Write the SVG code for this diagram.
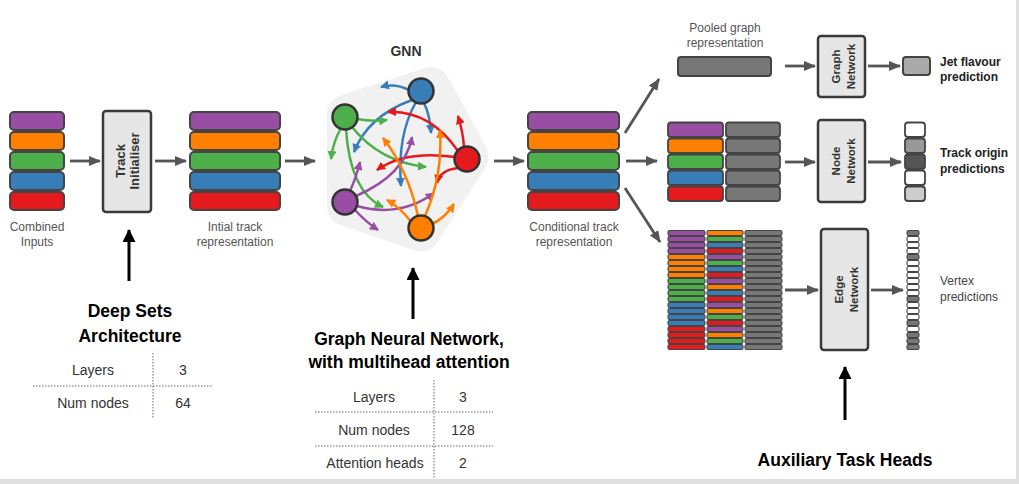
<svg xmlns="http://www.w3.org/2000/svg" width="1019" height="484" viewBox="0 0 1019 484">
<style>
text{font-family:"Liberation Sans",Arial,Helvetica,sans-serif}
.lbl{font-size:12px;fill:#555;text-anchor:middle}
.blbl{font-size:12px;font-weight:bold;fill:#222}
.title{font-size:17.5px;font-weight:bold;fill:#000;text-anchor:middle}
.tbl{font-size:14px;fill:#333;text-anchor:middle}
.btxt{font-weight:bold;fill:#333;text-anchor:middle}
.row{stroke:#444;stroke-width:2}
.srow{stroke:#444;stroke-width:1.8}
.erow{stroke:#444;stroke-width:1.1}
.box{fill:#e6e6e6;stroke:#3a3a3a;stroke-width:2.5}
.pu{fill:#984ea3}.or{fill:#ff7f00}.gr{fill:#4daf4a}.bl{fill:#377eb8}.re{fill:#e41a1c}.gy{fill:#777}
.conn{stroke:#555;stroke-width:2.8;fill:none;marker-end:url(#ah)}
.big{stroke:#000;stroke-width:3;fill:none;marker-end:url(#bh)}
.dot{stroke:#666;stroke-width:1;stroke-dasharray:1.5 1.5;fill:none}
.node{stroke:#333;stroke-width:2.5}
.e{fill:none;stroke-width:2.5}
</style>
<defs>
<marker id="ah" markerUnits="userSpaceOnUse" viewBox="0 0 12 10" refX="11" refY="5" markerWidth="12" markerHeight="10" orient="auto"><path d="M0,0 L12,5 L0,10 z" fill="#555"/></marker>
<marker id="bh" markerUnits="userSpaceOnUse" viewBox="0 0 13 13" refX="12" refY="6.5" markerWidth="13" markerHeight="13" orient="auto"><path d="M0,0 L13,6.5 L0,13 z" fill="#000"/></marker>
<marker id="mb" markerUnits="userSpaceOnUse" viewBox="0 0 9 9" refX="8" refY="4.5" markerWidth="9" markerHeight="9" orient="auto"><path d="M0,0 L9,4.5 L0,9 z" fill="#377eb8"/></marker>
<marker id="mg" markerUnits="userSpaceOnUse" viewBox="0 0 9 9" refX="8" refY="4.5" markerWidth="9" markerHeight="9" orient="auto"><path d="M0,0 L9,4.5 L0,9 z" fill="#4daf4a"/></marker>
<marker id="mr" markerUnits="userSpaceOnUse" viewBox="0 0 9 9" refX="8" refY="4.5" markerWidth="9" markerHeight="9" orient="auto"><path d="M0,0 L9,4.5 L0,9 z" fill="#e41a1c"/></marker>
<marker id="mp" markerUnits="userSpaceOnUse" viewBox="0 0 9 9" refX="8" refY="4.5" markerWidth="9" markerHeight="9" orient="auto"><path d="M0,0 L9,4.5 L0,9 z" fill="#984ea3"/></marker>
<marker id="mo" markerUnits="userSpaceOnUse" viewBox="0 0 9 9" refX="8" refY="4.5" markerWidth="9" markerHeight="9" orient="auto"><path d="M0,0 L9,4.5 L0,9 z" fill="#ff7f00"/></marker>
</defs>
<rect width="1019" height="484" fill="#fff"/>
<rect x="1016" y="0" width="3" height="484" fill="#e0e0e0"/>
<rect x="0" y="479" width="1019" height="5" fill="#e0e0e0"/>

<g id="combined-inputs">
<rect class="row pu" x="10" y="112" width="54" height="18" rx="4"/>
<rect class="row or" x="10" y="132" width="54" height="18" rx="4"/>
<rect class="row gr" x="10" y="152" width="54" height="18" rx="4"/>
<rect class="row bl" x="10" y="172" width="54" height="18" rx="4"/>
<rect class="row re" x="10" y="192" width="54" height="18" rx="4"/>
<text class="lbl" x="37" y="231">Combined</text>
<text class="lbl" x="37" y="246">Inputs</text>
</g>

<g id="track-initialiser">
<rect class="box" x="103" y="111" width="48" height="101" rx="3"/>
<g transform="translate(127,161) rotate(-90)">
<text class="btxt" style="font-size:13px" x="0" y="-2">Track</text>
<text class="btxt" style="font-size:13px" x="0" y="11.5">Initialiser</text>
</g>
</g>

<g id="initial-track-rep">
<rect class="row pu" x="190" y="112" width="90" height="18" rx="4"/>
<rect class="row or" x="190" y="132" width="90" height="18" rx="4"/>
<rect class="row gr" x="190" y="152" width="90" height="18" rx="4"/>
<rect class="row bl" x="190" y="172" width="90" height="18" rx="4"/>
<rect class="row re" x="190" y="192" width="90" height="18" rx="4"/>
<text class="lbl" x="235" y="231">Intial track</text>
<text class="lbl" x="235" y="246">representation</text>
</g>

<g id="gnn">
<text class="btxt" style="font-size:14px" x="406" y="56">GNN</text>
<path d="M327,115 Q327,100 342,95 L425,68 Q440,64 448,77 L485,145 Q492,158 484,170 L437,243 Q428,255 413,250 L338,224 Q327,219 327,205 Z" fill="#f1f1f1"/>
<g stroke="#377eb8" class="e">
<path d="M409,90 Q395,83 381,87" marker-end="url(#mb)"/>
<path d="M412,100 Q368,116 354,152" marker-end="url(#mb)"/>
<path d="M416,102 Q397,135 401,186" marker-end="url(#mb)"/>
<path d="M424,103 Q430,115 431,133" marker-end="url(#mb)"/>
</g>
<g stroke="#4daf4a" class="e">
<path d="M357,119 Q372,122 387,120" marker-end="url(#mg)"/>
<path d="M341,128 Q333,142 331,159" marker-end="url(#mg)"/>
<path d="M352,127 Q380,162 426,167" marker-end="url(#mg)"/>
<path d="M346,129 Q350,192 383,207" marker-end="url(#mg)"/>
</g>
<g stroke="#e41a1c" class="e">
<path d="M458,151 Q430,110 388,112" marker-end="url(#mr)"/>
<path d="M464,147 Q463,132 458,116" marker-end="url(#mr)"/>
<path d="M455,157 Q405,150 377,170" marker-end="url(#mr)"/>
<path d="M458,168 Q440,170 437,183" marker-end="url(#mr)"/>
</g>
<g stroke="#984ea3" class="e">
<path d="M350,191 Q356,178 360,162" marker-end="url(#mp)"/>
<path d="M356,196 Q405,175 412,137" marker-end="url(#mp)"/>
<path d="M357,206 Q400,218 434,193" marker-end="url(#mp)"/>
<path d="M355,210 Q366,222 378,230" marker-end="url(#mp)"/>
</g>
<g stroke="#ff7f00" class="e">
<path d="M418,216 Q408,170 383,138" marker-end="url(#mo)"/>
<path d="M425,216 Q443,175 440,130" marker-end="url(#mo)"/>
<path d="M411,222 Q400,207 387,200" marker-end="url(#mo)"/>
<path d="M432,224 Q445,218 454,204" marker-end="url(#mo)"/>
</g>
<circle class="node bl" cx="421" cy="91" r="12.5"/>
<circle class="node gr" cx="345" cy="117" r="12.5"/>
<circle class="node re" cx="467" cy="159" r="12.5"/>
<circle class="node pu" cx="345" cy="202" r="12.5"/>
<circle class="node or" cx="421" cy="228" r="12.5"/>
</g>

<g id="conditional-track-rep">
<rect class="row pu" x="528" y="112" width="91" height="18" rx="4"/>
<rect class="row or" x="528" y="132" width="91" height="18" rx="4"/>
<rect class="row gr" x="528" y="152" width="91" height="18" rx="4"/>
<rect class="row bl" x="528" y="172" width="91" height="18" rx="4"/>
<rect class="row re" x="528" y="192" width="91" height="18" rx="4"/>
<text class="lbl" x="574" y="231">Conditional track</text>
<text class="lbl" x="574" y="246">representation</text>
</g>

<g id="pooled-graph">
<text class="lbl" x="725" y="32">Pooled graph</text>
<text class="lbl" x="725" y="47">representation</text>
<rect class="row gy" x="678" y="57" width="93" height="19" rx="3"/>
</g>

<g id="graph-network">
<rect class="box" x="818" y="36" width="47" height="61" rx="3"/>
<g transform="translate(841.5,66.5) rotate(-90)">
<text class="btxt" style="font-size:11.5px" x="0" y="-1.5">Graph</text>
<text class="btxt" style="font-size:11.5px" x="0" y="13">Network</text>
</g>
</g>

<g id="jet-flavour">
<rect class="row" fill="#aaa" x="903" y="57" width="27" height="18" rx="3"/>
<text class="blbl" x="940" y="66">Jet flavour</text>
<text class="blbl" x="940" y="81">prediction</text>
</g>

<g id="node-stack">
<rect class="srow pu" x="668" y="122.5" width="55" height="14.5" rx="3"/>
<rect class="srow or" x="668" y="138.5" width="55" height="14.5" rx="3"/>
<rect class="srow gr" x="668" y="154.5" width="55" height="14.5" rx="3"/>
<rect class="srow bl" x="668" y="170.5" width="55" height="14.5" rx="3"/>
<rect class="srow re" x="668" y="186.5" width="55" height="14.5" rx="3"/>
<rect class="srow gy" x="726" y="122.5" width="54" height="14.5" rx="3"/>
<rect class="srow gy" x="726" y="138.5" width="54" height="14.5" rx="3"/>
<rect class="srow gy" x="726" y="154.5" width="54" height="14.5" rx="3"/>
<rect class="srow gy" x="726" y="170.5" width="54" height="14.5" rx="3"/>
<rect class="srow gy" x="726" y="186.5" width="54" height="14.5" rx="3"/>
</g>

<g id="node-network">
<rect class="box" x="818" y="120" width="47" height="82" rx="3"/>
<g transform="translate(841.5,161) rotate(-90)">
<text class="btxt" style="font-size:11.5px" x="0" y="-1.5">Node</text>
<text class="btxt" style="font-size:11.5px" x="0" y="13">Network</text>
</g>
</g>

<g id="track-origin">
<rect class="srow" fill="#fff" x="905" y="122.5" width="20" height="14.5" rx="3"/>
<rect class="srow" fill="#999" x="905" y="138.5" width="20" height="14.5" rx="3"/>
<rect class="srow" fill="#555" x="905" y="154.5" width="20" height="14.5" rx="3"/>
<rect class="srow" fill="#fff" x="905" y="170.5" width="20" height="14.5" rx="3"/>
<rect class="srow" fill="#ccc" x="905" y="186.5" width="20" height="14.5" rx="3"/>
<text class="blbl" x="940" y="157">Track origin</text>
<text class="blbl" x="940" y="173">predictions</text>
</g>

<g id="edge-stack">
<g class="erow">
<rect class="pu" x="668" y="230.5" width="37" height="5" rx="1.5"/>
<rect class="pu" x="668" y="236.5" width="37" height="5" rx="1.5"/>
<rect class="pu" x="668" y="242.5" width="37" height="5" rx="1.5"/>
<rect class="pu" x="668" y="248.5" width="37" height="5" rx="1.5"/>
<rect class="or" x="668" y="254.5" width="37" height="5" rx="1.5"/>
<rect class="or" x="668" y="260.5" width="37" height="5" rx="1.5"/>
<rect class="or" x="668" y="266.5" width="37" height="5" rx="1.5"/>
<rect class="or" x="668" y="272.5" width="37" height="5" rx="1.5"/>
<rect class="gr" x="668" y="278.5" width="37" height="5" rx="1.5"/>
<rect class="gr" x="668" y="284.5" width="37" height="5" rx="1.5"/>
<rect class="gr" x="668" y="290.5" width="37" height="5" rx="1.5"/>
<rect class="gr" x="668" y="296.5" width="37" height="5" rx="1.5"/>
<rect class="bl" x="668" y="302.5" width="37" height="5" rx="1.5"/>
<rect class="bl" x="668" y="308.5" width="37" height="5" rx="1.5"/>
<rect class="bl" x="668" y="314.5" width="37" height="5" rx="1.5"/>
<rect class="bl" x="668" y="320.5" width="37" height="5" rx="1.5"/>
<rect class="re" x="668" y="326.5" width="37" height="5" rx="1.5"/>
<rect class="re" x="668" y="332.5" width="37" height="5" rx="1.5"/>
<rect class="re" x="668" y="338.5" width="37" height="5" rx="1.5"/>
<rect class="re" x="668" y="344.5" width="37" height="5" rx="1.5"/>

<rect class="or" x="707" y="230.5" width="36" height="5" rx="1.5"/>
<rect class="gr" x="707" y="236.5" width="36" height="5" rx="1.5"/>
<rect class="bl" x="707" y="242.5" width="36" height="5" rx="1.5"/>
<rect class="re" x="707" y="248.5" width="36" height="5" rx="1.5"/>
<rect class="pu" x="707" y="254.5" width="36" height="5" rx="1.5"/>
<rect class="gr" x="707" y="260.5" width="36" height="5" rx="1.5"/>
<rect class="bl" x="707" y="266.5" width="36" height="5" rx="1.5"/>
<rect class="re" x="707" y="272.5" width="36" height="5" rx="1.5"/>
<rect class="pu" x="707" y="278.5" width="36" height="5" rx="1.5"/>
<rect class="or" x="707" y="284.5" width="36" height="5" rx="1.5"/>
<rect class="bl" x="707" y="290.5" width="36" height="5" rx="1.5"/>
<rect class="re" x="707" y="296.5" width="36" height="5" rx="1.5"/>
<rect class="pu" x="707" y="302.5" width="36" height="5" rx="1.5"/>
<rect class="or" x="707" y="308.5" width="36" height="5" rx="1.5"/>
<rect class="gr" x="707" y="314.5" width="36" height="5" rx="1.5"/>
<rect class="re" x="707" y="320.5" width="36" height="5" rx="1.5"/>
<rect class="pu" x="707" y="326.5" width="36" height="5" rx="1.5"/>
<rect class="or" x="707" y="332.5" width="36" height="5" rx="1.5"/>
<rect class="gr" x="707" y="338.5" width="36" height="5" rx="1.5"/>
<rect class="bl" x="707" y="344.5" width="36" height="5" rx="1.5"/>

<rect class="gy" x="745" y="230.5" width="37" height="5" rx="1.5"/>
<rect class="gy" x="745" y="236.5" width="37" height="5" rx="1.5"/>
<rect class="gy" x="745" y="242.5" width="37" height="5" rx="1.5"/>
<rect class="gy" x="745" y="248.5" width="37" height="5" rx="1.5"/>
<rect class="gy" x="745" y="254.5" width="37" height="5" rx="1.5"/>
<rect class="gy" x="745" y="260.5" width="37" height="5" rx="1.5"/>
<rect class="gy" x="745" y="266.5" width="37" height="5" rx="1.5"/>
<rect class="gy" x="745" y="272.5" width="37" height="5" rx="1.5"/>
<rect class="gy" x="745" y="278.5" width="37" height="5" rx="1.5"/>
<rect class="gy" x="745" y="284.5" width="37" height="5" rx="1.5"/>
<rect class="gy" x="745" y="290.5" width="37" height="5" rx="1.5"/>
<rect class="gy" x="745" y="296.5" width="37" height="5" rx="1.5"/>
<rect class="gy" x="745" y="302.5" width="37" height="5" rx="1.5"/>
<rect class="gy" x="745" y="308.5" width="37" height="5" rx="1.5"/>
<rect class="gy" x="745" y="314.5" width="37" height="5" rx="1.5"/>
<rect class="gy" x="745" y="320.5" width="37" height="5" rx="1.5"/>
<rect class="gy" x="745" y="326.5" width="37" height="5" rx="1.5"/>
<rect class="gy" x="745" y="332.5" width="37" height="5" rx="1.5"/>
<rect class="gy" x="745" y="338.5" width="37" height="5" rx="1.5"/>
<rect class="gy" x="745" y="344.5" width="37" height="5" rx="1.5"/>
</g>
</g>

<g id="edge-network">
<rect class="box" x="821" y="229" width="47" height="121" rx="3"/>
<g transform="translate(844.5,289.5) rotate(-90)">
<text class="btxt" style="font-size:11.5px" x="0" y="-1.5">Edge</text>
<text class="btxt" style="font-size:11.5px" x="0" y="13">Network</text>
</g>
</g>

<g id="vertex-predictions">
<g class="erow">
<rect fill="#777" x="907" y="230.5" width="12" height="5" rx="1.5"/>
<rect fill="#fff" x="907" y="236.5" width="12" height="5" rx="1.5"/>
<rect fill="#fff" x="907" y="242.5" width="12" height="5" rx="1.5"/>
<rect fill="#fff" x="907" y="248.5" width="12" height="5" rx="1.5"/>
<rect fill="#777" x="907" y="254.5" width="12" height="5" rx="1.5"/>
<rect fill="#fff" x="907" y="260.5" width="12" height="5" rx="1.5"/>
<rect fill="#fff" x="907" y="266.5" width="12" height="5" rx="1.5"/>
<rect fill="#fff" x="907" y="272.5" width="12" height="5" rx="1.5"/>
<rect fill="#fff" x="907" y="278.5" width="12" height="5" rx="1.5"/>
<rect fill="#fff" x="907" y="284.5" width="12" height="5" rx="1.5"/>
<rect fill="#fff" x="907" y="290.5" width="12" height="5" rx="1.5"/>
<rect fill="#777" x="907" y="296.5" width="12" height="5" rx="1.5"/>
<rect fill="#fff" x="907" y="302.5" width="12" height="5" rx="1.5"/>
<rect fill="#fff" x="907" y="308.5" width="12" height="5" rx="1.5"/>
<rect fill="#fff" x="907" y="314.5" width="12" height="5" rx="1.5"/>
<rect fill="#777" x="907" y="320.5" width="12" height="5" rx="1.5"/>
<rect fill="#fff" x="907" y="326.5" width="12" height="5" rx="1.5"/>
<rect fill="#777" x="907" y="332.5" width="12" height="5" rx="1.5"/>
<rect fill="#777" x="907" y="338.5" width="12" height="5" rx="1.5"/>
<rect fill="#777" x="907" y="344.5" width="12" height="5" rx="1.5"/>
</g>
<text class="lbl" style="text-anchor:start;fill:#444" x="940" y="285">Vertex</text>
<text class="lbl" style="text-anchor:start;fill:#444" x="940" y="301">predictions</text>
</g>

<g id="deep-sets">
<text class="title" x="130" y="317">Deep Sets</text>
<text class="title" x="130" y="342">Architecture</text>
<line class="dot" x1="153" y1="353" x2="153" y2="418"/>
<line class="dot" x1="33" y1="386" x2="212" y2="386"/>
<text class="tbl" x="93" y="375">Layers</text>
<text class="tbl" x="183" y="375">3</text>
<text class="tbl" x="93" y="408">Num nodes</text>
<text class="tbl" x="183" y="408">64</text>
</g>

<g id="gnn-table">
<text class="title" x="409" y="345">Graph Neural Network,</text>
<text class="title" x="409" y="368">with multihead attention</text>
<line class="dot" x1="434" y1="380" x2="434" y2="479"/>
<line class="dot" x1="315" y1="412" x2="493" y2="412"/>
<line class="dot" x1="315" y1="446" x2="493" y2="446"/>
<text class="tbl" x="374" y="402">Layers</text>
<text class="tbl" x="463" y="402">3</text>
<text class="tbl" x="374" y="435">Num nodes</text>
<text class="tbl" x="463" y="435">128</text>
<text class="tbl" x="375" y="468">Attention heads</text>
<text class="tbl" x="463" y="468">2</text>
</g>

<g id="aux-heads">
<text class="title" x="845" y="466">Auxiliary Task Heads</text>
</g>

<g id="connectors">
<line class="conn" x1="70" y1="161" x2="100" y2="161"/>
<line class="conn" x1="155" y1="161" x2="186" y2="161"/>
<line class="conn" x1="285" y1="161" x2="315" y2="161"/>
<line class="conn" x1="494" y1="161" x2="524" y2="161"/>
<line class="conn" x1="626" y1="161" x2="657" y2="161"/>
<line class="conn" x1="625" y1="133" x2="659" y2="79"/>
<line class="conn" x1="625" y1="188" x2="660" y2="242"/>
<line class="conn" x1="785" y1="66" x2="815" y2="66"/>
<line class="conn" x1="868" y1="66" x2="900" y2="66"/>
<line class="conn" x1="785" y1="162" x2="815" y2="162"/>
<line class="conn" x1="868" y1="162" x2="901" y2="162"/>
<line class="conn" x1="785" y1="290" x2="818" y2="290"/>
<line class="conn" x1="871" y1="290" x2="903" y2="290"/>
<line class="big" x1="129" y1="281" x2="129" y2="230"/>
<line class="big" x1="413" y1="319" x2="413" y2="268"/>
<line class="big" x1="845" y1="420" x2="845" y2="367"/>
</g>
</svg>
